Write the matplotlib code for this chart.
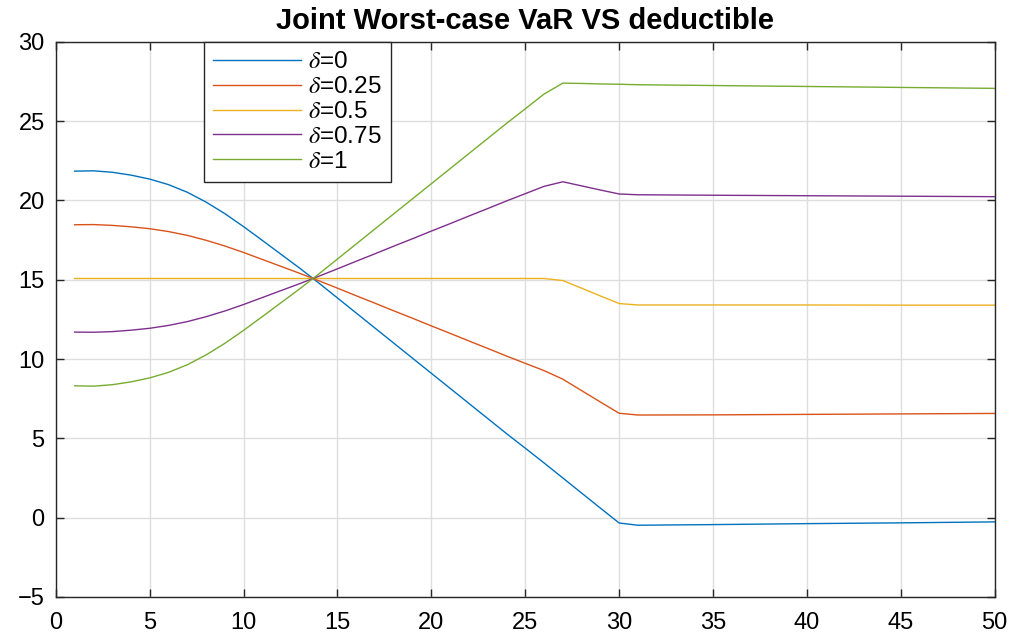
import matplotlib
matplotlib.use('Agg')
import matplotlib.pyplot as plt

# 字体设置 (MATLAB风格)
plt.rcParams['font.family'] = ['Liberation Sans', 'DejaVu Sans']
plt.rcParams['mathtext.fontset'] = 'stix'

# 数据: 免赔额 x 与不同 delta 下的联合最坏情况 VaR
deductible = [1, 2, 3, 4, 5, 6, 7, 8, 9, 10, 11, 12, 13, 14, 15, 16, 17, 18, 19, 20,
              21, 22, 23, 24, 25, 26, 27, 28, 29, 30, 31, 35, 40, 45, 50]

var_d0 = [21.85, 21.87, 21.78, 21.60, 21.35, 21.00, 20.52, 19.90, 19.17, 18.35,
          17.48, 16.60, 15.72, 14.80, 13.85, 12.90, 11.95, 11.00, 10.05, 9.10,
          8.15, 7.20, 6.25, 5.30, 4.38, 3.45, 2.50, 1.55, 0.60, -0.34,
          -0.48, -0.44, -0.38, -0.33, -0.27]
var_d025 = [18.47, 18.48, 18.43, 18.34, 18.22, 18.04, 17.80, 17.49, 17.13, 16.72,
            16.28, 15.84, 15.40, 14.94, 14.47, 13.99, 13.52, 13.04, 12.57, 12.09,
            11.62, 11.14, 10.67, 10.19, 9.73, 9.27, 8.73, 8.01, 7.29, 6.58,
            6.47, 6.48, 6.51, 6.54, 6.57]
var_d05 = [15.08, 15.08, 15.08, 15.08, 15.08, 15.08, 15.08, 15.08, 15.08, 15.08,
           15.08, 15.08, 15.08, 15.08, 15.08, 15.08, 15.08, 15.08, 15.08, 15.08,
           15.08, 15.08, 15.08, 15.08, 15.08, 15.08, 14.95, 14.47, 13.98, 13.50,
           13.41, 13.41, 13.41, 13.40, 13.40]
var_d075 = [11.70, 11.69, 11.73, 11.82, 11.94, 12.12, 12.36, 12.67, 13.03, 13.44,
            13.88, 14.32, 14.76, 15.22, 15.69, 16.17, 16.64, 17.12, 17.59, 18.07,
            18.54, 19.02, 19.49, 19.97, 20.43, 20.89, 21.18, 20.92, 20.66, 20.41,
            20.36, 20.33, 20.30, 20.27, 20.24]
var_d1 = [8.31, 8.29, 8.38, 8.56, 8.81, 9.16, 9.64, 10.26, 10.99, 11.81,
          12.68, 13.56, 14.44, 15.36, 16.31, 17.26, 18.21, 19.16, 20.11, 21.06,
          22.01, 22.96, 23.91, 24.86, 25.78, 26.71, 27.40, 27.38, 27.35, 27.33,
          27.30, 27.25, 27.19, 27.13, 27.07]

labels = [r'$\delta$=0', r'$\delta$=0.25', r'$\delta$=0.5', r'$\delta$=0.75', r'$\delta$=1']
colors = ['#0072BD', '#D95319', '#EDB120', '#7E2F8E', '#77AC30']
series = [var_d0, var_d025, var_d05, var_d075, var_d1]

fig = plt.figure(figsize=(10.15, 6.35), dpi=100)
ax = fig.add_axes([0.055, 0.060, 0.925, 0.874])

for vals, lab, c in zip(series, labels, colors):
    ax.plot(deductible, vals, color=c, lw=1.0, label=lab)

ax.set_xlim(0, 50)
ax.set_ylim(-5, 30)
ax.set_xticks(range(0, 51, 5))
ax.set_yticks(range(-5, 31, 5))
ax.grid(True, color='#dedede', lw=1.0)
ax.set_axisbelow(True)
ax.tick_params(direction='in', length=6, width=1.0, top=True, right=True,
               labelsize=17, colors='#262626', labelcolor='black')
ax.tick_params(axis='x', pad=11)
ax.tick_params(axis='y', pad=8)
for sp in ax.spines.values():
    sp.set_color('#262626')
    sp.set_linewidth(1.0)

ax.set_title('Joint Worst-case VaR VS deductible', fontsize=21, fontweight='bold', pad=9)

leg = ax.legend(loc='upper left', bbox_to_anchor=(0.158, 1.0), borderaxespad=0,
                fontsize=17.5, handlelength=3.6, labelspacing=0.12, handletextpad=0.3,
                fancybox=False, framealpha=1, edgecolor='#262626', borderpad=0.38)
leg.get_frame().set_linewidth(1.0)

plt.savefig('out.png', dpi=100)
